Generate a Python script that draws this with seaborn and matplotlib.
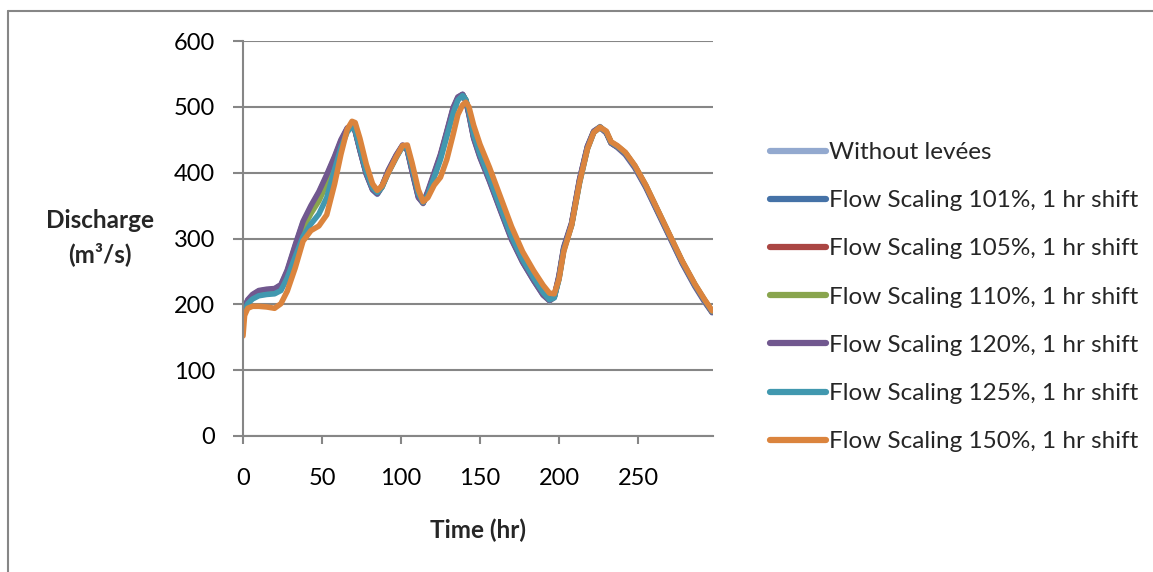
import matplotlib
matplotlib.use('Agg')
import matplotlib.pyplot as plt
from matplotlib.lines import Line2D
import pandas as pd
import seaborn as sns

sns.set_style('white')
plt.rcParams['font.family'] = ['Lato', 'DejaVu Sans']

# Time (hr)
time_hr = [0, 1, 3, 6, 10, 15, 20, 24, 28, 33,
           38, 43, 48, 53, 58, 62, 66, 69, 71, 74,
           78, 82, 85, 88, 92, 97, 101, 104, 107, 111,
           114, 117, 121, 125, 129, 133, 136, 139, 141, 143,
           146, 150, 156, 163, 170, 177, 184, 190, 194, 197,
           200, 203, 208, 213, 218, 222, 226, 230, 233, 237,
           242, 248, 255, 262, 270, 278, 286, 292, 297]

# Discharge (m3/s) per scenario
q_without = [178, 192, 203, 211, 218, 220, 221, 227, 248, 286,
             322, 346, 367, 393, 421, 446, 466, 470, 463, 434,
             398, 374, 367, 378, 402, 425, 440, 434, 403, 363,
             353, 369, 397, 425, 460, 496, 513, 518, 509, 489,
             453, 424, 388, 343, 299, 264, 236, 214, 205, 210,
             241, 284, 322, 389, 440, 463, 470, 461, 445, 438,
             427, 407, 377, 342, 302, 262, 227, 204, 187]
q_101 = [181, 195, 206, 214, 220, 222, 223, 229, 250, 288,
         324, 348, 369, 395, 423, 448, 467, 471, 464, 435,
         399, 375, 368, 379, 403, 426, 441, 435, 404, 364,
         354, 370, 398, 426, 461, 497, 514, 519, 510, 490,
         454, 425, 389, 344, 300, 265, 237, 215, 206, 211,
         242, 285, 322, 388, 439, 462, 469, 461, 445, 439,
         429, 409, 379, 344, 304, 264, 229, 206, 188]
q_105 = [181, 195, 205, 213, 219, 221, 222, 227, 248, 285,
         320, 345, 365, 390, 420, 446, 466, 471, 464, 436,
         400, 376, 369, 379, 402, 425, 441, 436, 405, 365,
         354, 369, 397, 425, 460, 495, 513, 518, 510, 491,
         455, 426, 390, 345, 301, 266, 238, 216, 206, 211,
         241, 284, 322, 387, 438, 462, 469, 461, 445, 439,
         429, 409, 379, 344, 304, 264, 229, 206, 188]
q_110 = [180, 194, 204, 211, 217, 219, 220, 225, 245, 280,
         315, 338, 357, 383, 416, 443, 465, 471, 465, 437,
         401, 376, 369, 379, 401, 424, 440, 436, 406, 366,
         355, 368, 395, 423, 458, 493, 512, 518, 511, 492,
         456, 427, 391, 346, 302, 267, 239, 217, 207, 211,
         240, 283, 321, 386, 437, 462, 469, 461, 446, 440,
         430, 410, 380, 345, 305, 265, 230, 207, 189]
q_120 = [182, 196, 207, 215, 221, 223, 224, 230, 252, 290,
         326, 350, 371, 397, 425, 450, 468, 471, 463, 434,
         398, 374, 368, 380, 404, 427, 442, 434, 402, 362,
         354, 372, 400, 428, 463, 499, 515, 519, 509, 488,
         452, 423, 387, 342, 298, 264, 236, 214, 206, 212,
         244, 287, 324, 390, 440, 463, 469, 460, 445, 439,
         428, 408, 378, 343, 303, 263, 228, 205, 188]
q_125 = [180, 190, 201, 208, 213, 215, 216, 221, 240, 272,
         303, 322, 337, 362, 405, 438, 462, 470, 465, 438,
         402, 377, 370, 378, 400, 423, 440, 437, 408, 368,
         355, 366, 393, 420, 455, 490, 510, 517, 511, 494,
         458, 428, 392, 347, 303, 268, 240, 218, 207, 210,
         238, 282, 320, 384, 436, 461, 469, 462, 446, 440,
         430, 410, 380, 345, 305, 265, 230, 207, 189]
q_150 = [152, 183, 194, 197, 197, 196, 194, 201, 220, 255,
         296, 312, 319, 336, 383, 428, 466, 478, 476, 452,
         413, 383, 373, 380, 400, 424, 441, 442, 415, 374,
         356, 362, 381, 393, 420, 458, 488, 503, 507, 500,
         472, 443, 408, 363, 318, 280, 251, 229, 217, 216,
         238, 280, 320, 385, 436, 461, 469, 463, 447, 441,
         431, 411, 381, 346, 306, 266, 231, 208, 190]

series_names = ['Without levées',
                'Flow Scaling 101%, 1 hr shift',
                'Flow Scaling 105%, 1 hr shift',
                'Flow Scaling 110%, 1 hr shift',
                'Flow Scaling 120%, 1 hr shift',
                'Flow Scaling 125%, 1 hr shift',
                'Flow Scaling 150%, 1 hr shift']
series_values = [q_without, q_101, q_105, q_110, q_120, q_125, q_150]
colors = ['#93A9CF', '#4572A7', '#AA4643', '#89A54E', '#71588F', '#4198AF', '#DB843D']

# Long-form dataframe
frames = []
for name, vals in zip(series_names, series_values):
    frames.append(pd.DataFrame({'time': time_hr, 'discharge': vals, 'series': name}))
df = pd.concat(frames, ignore_index=True)

fig = plt.figure(figsize=(11.53, 5.72), dpi=100)
ax = fig.add_axes([243 / 1153, 1 - 436 / 572, 470 / 1153, 395 / 572])

sns.lineplot(data=df, x='time', y='discharge', hue='series', hue_order=series_names,
             palette=colors, linewidth=4.0, estimator=None, sort=False, legend=False, ax=ax)
for line in ax.get_lines():
    line.set_solid_capstyle('round')
    line.set_solid_joinstyle('round')

grid_col = '#868686'
ax.set_xlim(0, 297.5)
ax.set_ylim(0, 600)
ax.set_xticks([0, 50, 100, 150, 200, 250])
ax.set_yticks([0, 100, 200, 300, 400, 500, 600])
ax.set_axisbelow(True)
ax.yaxis.grid(True, color=grid_col, linewidth=1.5)
ax.xaxis.grid(False)
for side in ['top', 'right']:
    ax.spines[side].set_visible(False)
for side in ['left', 'bottom']:
    ax.spines[side].set_color(grid_col)
    ax.spines[side].set_linewidth(1.5)
ax.tick_params(axis='both', colors=grid_col, labelcolor='black', labelsize=17,
               direction='out', width=1.5, left=True, bottom=True)
ax.tick_params(axis='x', length=6, pad=17)
ax.tick_params(axis='y', length=7, pad=13)
ax.set_xlabel('')
ax.set_ylabel('')

# Axis titles
fig.text(100 / 1153, 1 - 221 / 572, 'Discharge', ha='center', va='center',
         fontsize=17.5, fontweight='bold')
fig.text(100 / 1153, 1 - 254 / 572, '(m³/s)', ha='center', va='center',
         fontsize=17.5, fontweight='bold')
fig.text(478 / 1153, 1 - 530 / 572, 'Time (hr)', ha='center', va='center',
         fontsize=17.5, fontweight='bold')

# Legend
handles = [Line2D([], [], color=c, linewidth=4.5, solid_capstyle='round') for c in colors]
fig.legend(handles, series_names, loc='upper left', bbox_to_anchor=(770 / 1153, 1 - 142 / 572),
           frameon=False, fontsize=17.5, handlelength=2.3, handletextpad=0.12,
           labelspacing=1.12, borderaxespad=0, borderpad=0)

# Chart border
fig.add_artist(Line2D([8 / 1153, 1.01], [1 - 11 / 572, 1 - 11 / 572],
                      transform=fig.transFigure, color=grid_col, linewidth=1.5))
fig.add_artist(Line2D([8 / 1153, 8 / 1153], [1 - 11 / 572, -0.01],
                      transform=fig.transFigure, color=grid_col, linewidth=1.5))

fig.savefig('out.png', dpi=100)
